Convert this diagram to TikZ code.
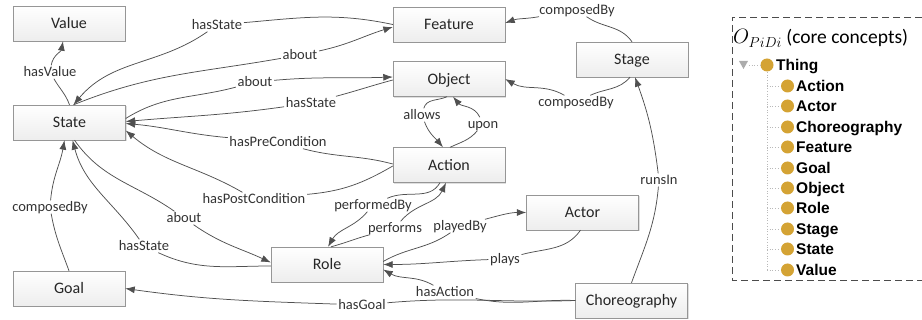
\documentclass[tikz,border=0pt]{standalone}
\usepackage{fontspec}
\setmainfont{Carlito}
\newfontfamily\treefont{Liberation Sans}
\usetikzlibrary{arrows.meta,shadows,calc}
\definecolor{linec}{RGB}{80,80,80}
\definecolor{gold}{RGB}{212,163,52}
\definecolor{boxline}{RGB}{150,150,150}
\begin{document}
\begin{tikzpicture}[x=1pt,y=-1pt,
  box/.style={draw=boxline, top color=white, bottom color=gray!14,
    minimum width=112pt, minimum height=35pt, inner sep=0pt,
    font=\fontsize{16}{16}\selectfont, text=black!85, text height=10.5pt, text depth=0pt,
    drop shadow={opacity=0.25, shadow xshift=1.2pt, shadow yshift=-1.2pt}},
  lab/.style={font=\fontsize{14.5}{14.5}\selectfont, text=black!80, inner sep=1.5pt,
    text height=9.5pt, text depth=0.5pt},
  conn/.style={draw=linec, line width=0.75pt},
  arr/.style={conn, -{Latex[length=9.5pt,width=7pt]}},
  ball/.style={circle, fill=gold, minimum size=13pt, inner sep=0pt},
  treetext/.style={anchor=west, inner sep=0pt, font=\treefont\bfseries\fontsize{15.5}{15.5}\selectfont,
    text height=11.3pt, text depth=0pt},
  treeline/.style={draw=gray!55, dotted, line width=0.7pt}]
\useasboundingbox (0,0) rectangle (922,320);

% boxes
\node[box] (Value) at (69,23.5) {Value};
\node[box] (Feature) at (449,24.5) {Feature};
\node[box] (Object) at (449,79) {Object};
\node[box] (Stage) at (632,59.5) {Stage};
\node[box] (State) at (69.5,122.5) {State};
\node[box] (Action) at (449,165) {Action};
\node[box] (Actor) at (582.5,212.5) {Actor};
\node[box] (Role) at (327,264.5) {Role};
\node[box] (Goal) at (69,288.5) {Goal};
\node[box] (Choreography) at (631.5,300.5) {Choreography};

% labels
\node[lab] (lhsA) at (217,25) {hasState};
\node[lab] (laF) at (300,55) {about};
\node[lab] (laO) at (255,82) {about};
\node[lab] (lhsO) at (311,103) {hasState};
\node[lab] (lpre) at (278,142) {hasPreCondition};
\node[lab] (lpost) at (254,199) {hasPostCondition};
\node[lab] (lallow) at (422,115) {allows};
\node[lab] (lupon) at (483,124) {upon};
\node[lab] (lcbF) at (577,10) {composedBy};
\node[lab] (lcbO) at (576,102) {composedBy};
\node[lab] (lrun) at (659,180) {runsIn};
\node[lab] (lpby) at (373,205) {performedBy};
\node[lab] (lperf) at (395,228) {performs};
\node[lab] (lplb) at (460,226) {playedBy};
\node[lab] (lplay) at (505,259) {plays};
\node[lab] (lhact) at (445,292) {hasAction};
\node[lab] (lgoal) at (362,305) {hasGoal};
\node[lab] (lhsR) at (144,246) {hasState};
\node[lab] (labR) at (184,218) {about};
\node[lab] (lcbG) at (50,207) {composedBy};
\node[lab] (lhv) at (50,72) {hasValue};

% hasState Feature -> State
\draw[conn] (Feature.west) to[out=168,in=5] (lhsA);
\draw[arr] (lhsA) to[out=-145,in=50] ([xshift=4pt]State.north);
% about State -> Feature
\draw[conn] ([xshift=4pt]State.north) to[out=22,in=190] (laF);
\draw[arr] (laF) to[out=12,in=197] ([yshift=-2.5pt]Feature.west);
% about State -> Object
\draw[conn] ([yshift=4pt]State.east) to[out=32,in=195] (laO);
\draw[arr] (laO) to[out=5,in=182] ([yshift=2pt]Object.west);
% hasState Object -> State
\draw[conn] ([yshift=-1pt]Object.west) to[out=195,in=15] (lhsO);
\draw[arr] (lhsO) to[out=188,in=5] ([yshift=1pt]State.east);
% hasPreCondition
\draw[conn] ([yshift=1pt]Action.west) to[out=165,in=-15] (lpre);
\draw[arr] (lpre) to[out=175,in=-5] ([yshift=-1pt]State.east);
% hasPostCondition
\draw[conn] ([yshift=-1pt]Action.west) to[out=210,in=5] (lpost);
\draw[arr] (lpost) to[out=150,in=-40] ([yshift=-8pt]State.east);
% allows
\draw[conn] ([xshift=-2pt]Object.south) to[out=205,in=75] (lallow);
\draw[arr] (lallow) to[out=-70,in=130] ([xshift=-6pt]Action.north);
% upon
\draw[conn] ([xshift=1pt]Action.north) to[out=25,in=-130] (lupon);
\draw[arr] (lupon) to[out=115,in=-50] ([xshift=4pt]Object.south);
% composedBy Stage -> Feature
\draw[conn] (Stage.north) to[out=125,in=-35] (lcbF);
\draw[arr] (lcbF) to[out=190,in=20] ([yshift=1.5pt]Feature.east);
% composedBy Stage -> Object
\draw[conn] ([xshift=-2pt]Stage.south) to[out=-130,in=25] (lcbO);
\draw[arr] (lcbO) to[out=150,in=-30] (Object.east);
% runsIn
\draw[conn] (Choreography.north) to[out=70,in=-95] (lrun);
\draw[arr] (lrun) to[out=97,in=-70] ([xshift=3pt]Stage.south);
% performedBy
\draw[conn] ([xshift=-9pt]Action.south) to[out=-120,in=25] (lpby);
\draw[arr] (lpby) to[out=-130,in=60] ([xshift=1pt]Role.north);
% performs
\draw[conn] ([xshift=4pt]Role.north) to[out=15,in=195] (lperf);
\draw[arr] (lperf) to[out=50,in=-115] ([xshift=-3pt]Action.south);
% playedBy
\draw[conn] ([yshift=3pt]Role.east) to[out=30,in=-145] (lplb);
\draw[arr] (lplb) to[out=15,in=180] (Actor.west);
% plays
\draw[conn] ([xshift=-2pt]Actor.south) to[out=-125,in=15] (lplay);
\draw[arr] (lplay) to[out=182,in=0] (Role.east);
% hasAction
\draw[conn] (Choreography.west) to[out=178,in=-12] (lhact);
\draw[arr] (lhact) to[out=150,in=-30] ([yshift=-5pt]Role.east);
% hasGoal
\draw[conn] (Choreography.west) to[out=182,in=5] (lgoal);
\draw[arr] (lgoal) to[out=178,in=-8] (Goal.east);
% hasState Role -> State
\draw[conn] ([yshift=-1.5pt]Role.west) to[out=180,in=-25] (lhsR);
\draw[arr] (lhsR) to[out=125,in=-75] ([xshift=3pt]State.south);
% about State -> Role
\draw[conn] ([xshift=5pt]State.south) to[out=-55,in=145] (labR);
\draw[arr] (labR) to[out=-35,in=155] ([yshift=2pt]Role.west);
% composedBy Goal -> State
\draw[conn] (Goal.north) to[out=110,in=-80] (lcbG);
\draw[arr] (lcbG) to[out=85,in=-100] ([xshift=-5pt]State.south);
% hasValue
\draw[conn] (State.north) to[out=110,in=-60] (lhv);
\draw[arr] (lhv) to[out=80,in=-100] ([xshift=-6pt]Value.south);

% right panel
\draw[draw=gray!60!black, line width=0.8pt, dash pattern=on 7pt off 4pt]
  (922,17) -- (732,17) -- (732,280) -- (922,280);
\node[anchor=base west, inner sep=0pt, font=\fontsize{19.5}{19.5}\selectfont] (title) at (733,44)
  {$O_{PiDi}$ (core concepts)};

\fill[gray!65] (739,61) -- (748,61) -- (743.5,69) -- cycle;
\node[ball] (cThing) at (767,65) {};
\draw[treeline] (749,65) -- (cThing.west);
\node[treetext] (tThing) at (776,65) {Thing};
\draw[treeline] (767,72) -- (767,270);
\foreach \y/\t in {86/Action,106/Actor,127/Choreography,147/Feature,168/Goal,188/Object,208/Role,229/Stage,249/State,270/Value}{
  \draw[treeline] (767,\y) -- (781,\y);
  \node[ball] (c\t) at (787.5,\y) {};
  \node[treetext] (t\t) at (796,\y) {\t};
}
\end{tikzpicture}
\end{document}
